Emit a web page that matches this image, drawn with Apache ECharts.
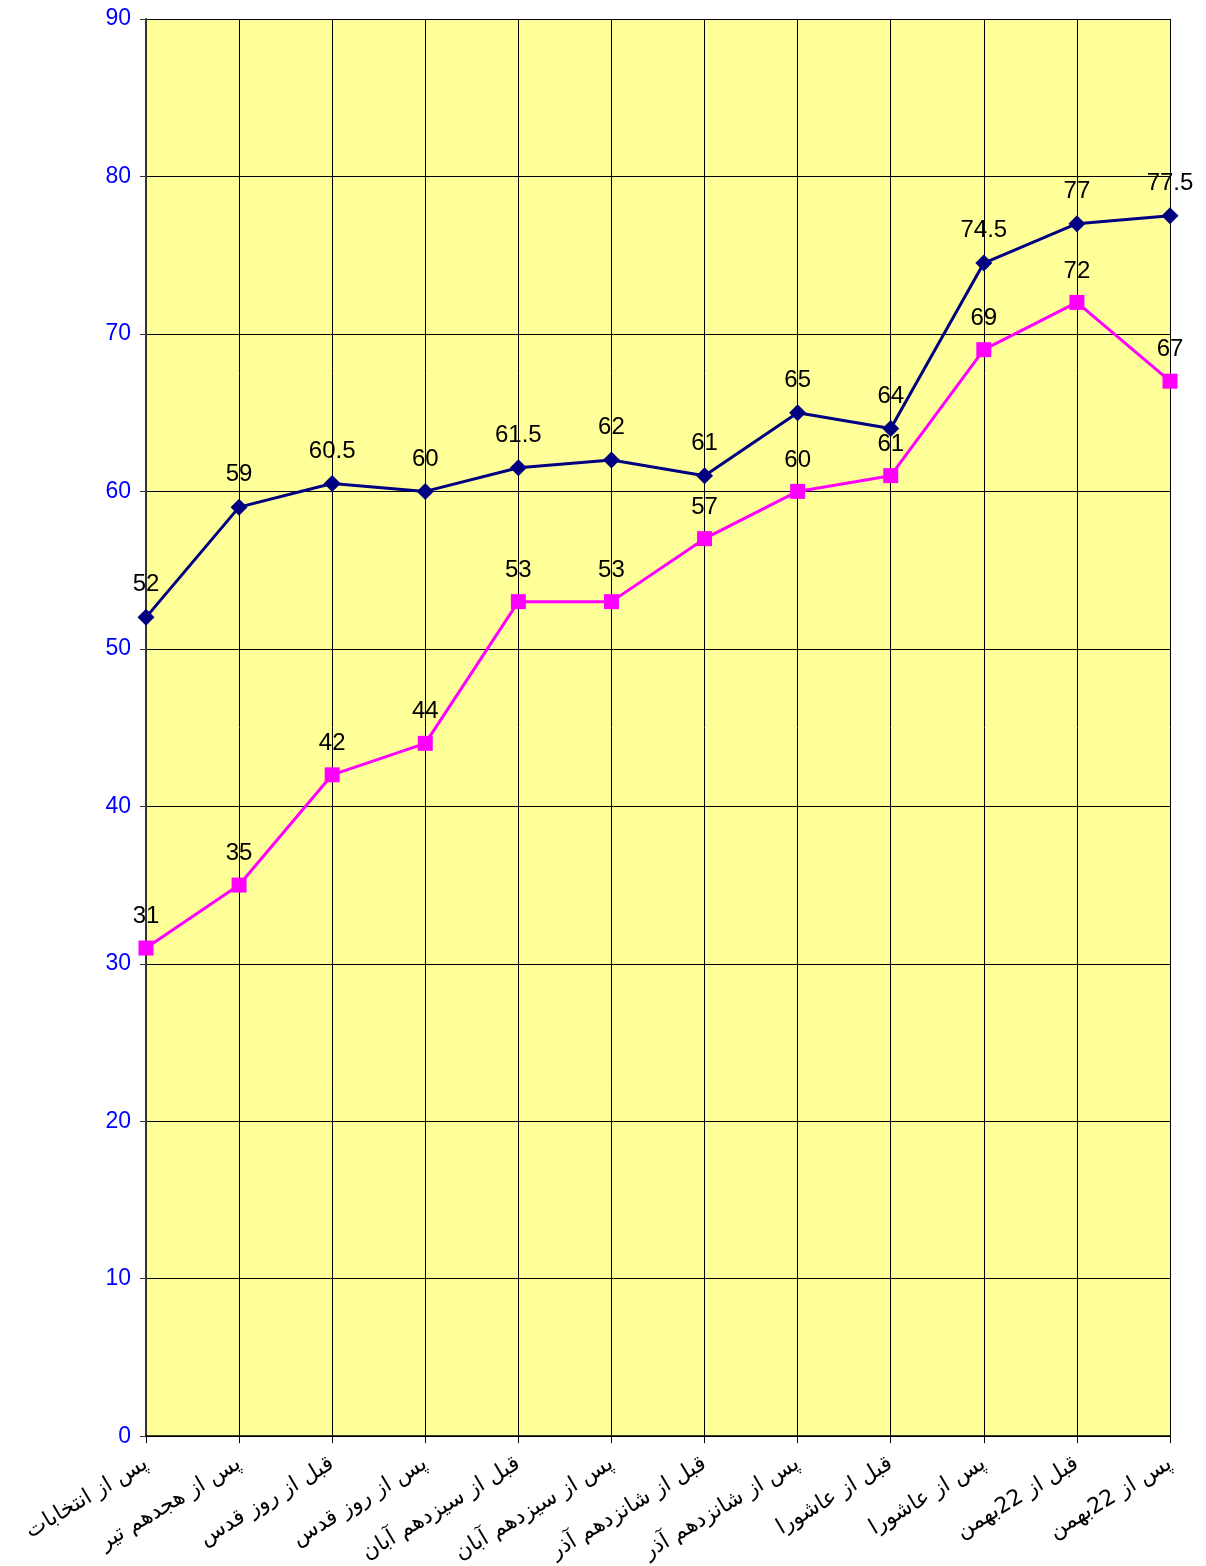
<!DOCTYPE html>
<html><head><meta charset="utf-8">
<script src="https://cdn.jsdelivr.net/npm/echarts@6/dist/echarts.min.js"></script>
<style>html,body{margin:0;padding:0;background:#fff}#c{width:1206px;height:1566px}</style>
</head><body><div id="c"></div>
<script>
const categories = ['پس از انتخابات','پس از هجدهم تیر','قبل از روز قدس','پس از روز قدس','قبل از سیزدهم آبان','پس از سیزدهم آبان','قبل از شانزدهم آذر','پس از شانزدهم آذر','قبل از عاشورا','پس از عاشورا','قبل از 22بهمن','پس از 22بهمن'];
const seriesNavy = [52, 59, 60.5, 60, 61.5, 62, 61, 65, 64, 74.5, 77, 77.5];
const seriesMagenta = [31, 35, 42, 44, 53, 53, 57, 60, 61, 69, 72, 67];
const yTicks = {min: 0, max: 90, interval: 10};

const chart = echarts.init(document.getElementById('c'));
const labelStyle = {show: true, position: 'top', distance: 12, color: '#000', fontSize: 24, fontFamily: 'Liberation Sans, Arial, sans-serif'};
chart.setOption({
  animation: false,
  grid: {left: 146, right: 36, top: 19, bottom: 129, show: true, backgroundColor: '#FFFF99', borderWidth: 0},
  xAxis: {
    type: 'category', data: categories, boundaryGap: false,
    axisLine: {lineStyle: {color: '#000', width: 1.5}},
    axisTick: {show: true, length: 7, lineStyle: {color: '#000'}},
    splitLine: {show: true, lineStyle: {color: '#000', width: 1}},
    axisLabel: {rotate: 31, interval: 0, fontSize: 22, color: '#000', margin: 26, fontFamily: 'DejaVu Sans, Liberation Sans, sans-serif'}
  },
  yAxis: {
    type: 'value', min: yTicks.min, max: yTicks.max, interval: yTicks.interval,
    axisLine: {show: true, lineStyle: {color: '#333', width: 2}},
    axisTick: {show: true, length: 6, lineStyle: {color: '#333'}},
    splitLine: {show: true, lineStyle: {color: '#000', width: 1}},
    axisLabel: {color: '#0000FF', fontSize: 23, margin: 15, fontFamily: 'Liberation Sans, Arial, sans-serif'}
  },
  series: [
    {type: 'line', data: seriesNavy, symbol: 'diamond', symbolSize: 17,
     lineStyle: {color: '#000080', width: 3}, itemStyle: {color: '#000080'}, label: labelStyle, z: 3},
    {type: 'line', data: seriesMagenta, symbol: 'rect', symbolSize: 15,
     lineStyle: {color: '#FF00FF', width: 3}, itemStyle: {color: '#FF00FF'}, label: labelStyle, z: 4}
  ]
});
</script></body></html>
